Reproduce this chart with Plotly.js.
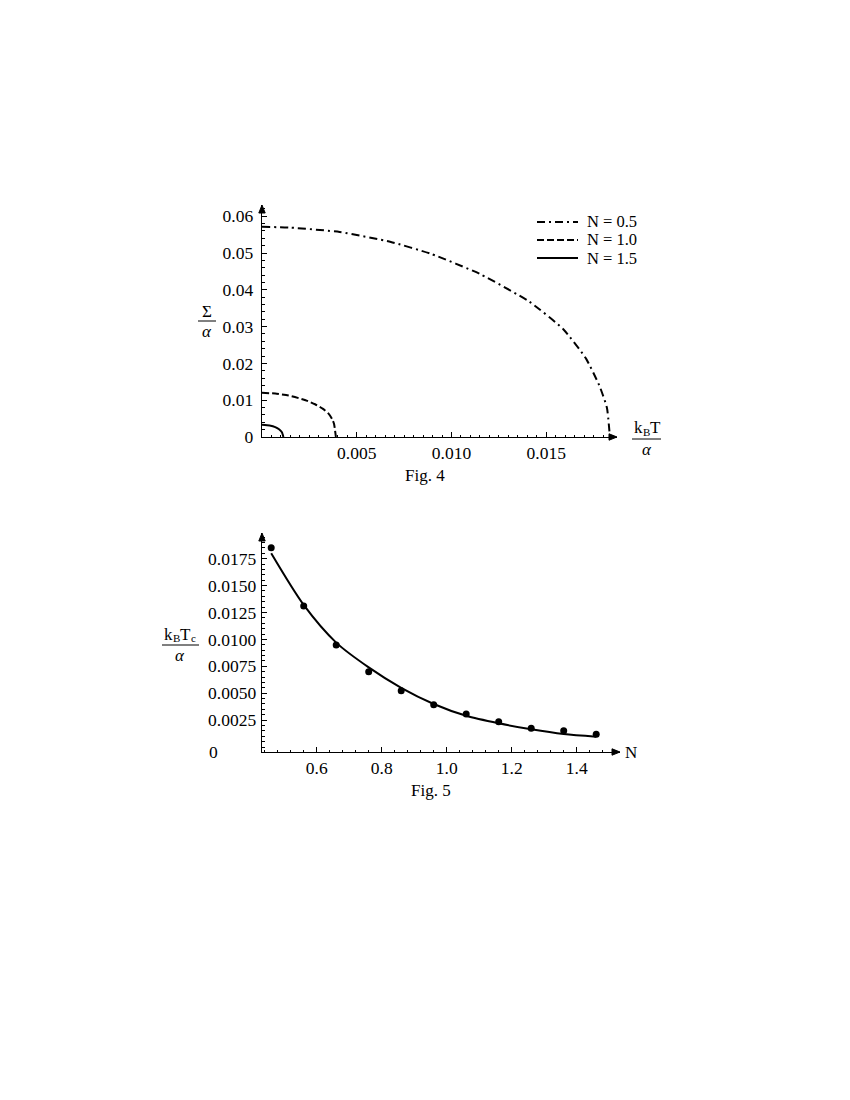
<!DOCTYPE html>
<html>
<head>
<meta charset="utf-8">
<script src="https://cdn.plot.ly/plotly-3.0.1.min.js"></script>
<style>html,body{margin:0;padding:0;background:#fff;}#plot{width:850px;height:1100px;}</style>
</head>
<body>
<div id="plot"></div>
<script>
// ---- Fig. 4 data: Sigma/alpha vs k_B T/alpha ----
const T_N05 = [0, 0.0015, 0.0041, 0.0068, 0.0089, 0.0115, 0.0141, 0.0159, 0.0171, 0.0178, 0.0182, 0.01836];
const S_N05 = [0.0571, 0.0569, 0.0557, 0.0530, 0.0498, 0.0443, 0.0368, 0.0293, 0.0213, 0.0140, 0.0080, 0];
const T_N10 = [0, 0.0007, 0.0014, 0.0023, 0.0028, 0.0032, 0.0035, 0.0037, 0.0038, 0.0039];
const S_N10 = [0.0120, 0.0118, 0.0113, 0.0100, 0.0089, 0.0077, 0.0064, 0.0049, 0.0036, 0];
const T_N15 = [0, 0.0004, 0.0007, 0.0009, 0.00105, 0.00113];
const S_N15 = [0.0033, 0.0031, 0.0027, 0.0021, 0.0013, 0];
const LEGEND_LABELS = ['N = 0.5', 'N = 1.0', 'N = 1.5'];

const X4_TICKVALS = [0.005, 0.010, 0.015];
const X4_TICKTEXT = ['0.005', '0.010', '0.015'];
const X4_MIDTICKS = [0.0025, 0.0075, 0.0125, 0.0175];
const Y4_TICKVALS = [0, 0.01, 0.02, 0.03, 0.04, 0.05, 0.06];
const Y4_TICKTEXT = ['0', '0.01', '0.02', '0.03', '0.04', '0.05', '0.06'];

// ---- Fig. 5 data: k_B T_c/alpha vs N ----
const N_VALUES = [0.46, 0.56, 0.66, 0.76, 0.86, 0.96, 1.06, 1.16, 1.26, 1.36, 1.46];
const TC_POINTS = [0.01852, 0.01310, 0.00948, 0.00700, 0.00523, 0.00393, 0.00307, 0.00235, 0.00174, 0.00151, 0.00118];
const TC_CURVE = [0.0180, 0.0132, 0.0097, 0.0074, 0.0055, 0.0040, 0.0029, 0.0022, 0.00164, 0.0012, 0.00096];

const X5_TICKVALS = [0.6, 0.8, 1.0, 1.2, 1.4];
const X5_TICKTEXT = ['0.6', '0.8', '1.0', '1.2', '1.4'];
const Y5_TICKVALS = [0.0025, 0.0050, 0.0075, 0.0100, 0.0125, 0.0150, 0.0175];
const Y5_TICKTEXT = ['0.0025', '0.0050', '0.0075', '0.0100', '0.0125', '0.0150', '0.0175'];
const Y5_ORIGIN_LABEL = '0';

// ---- layout helpers ----
const W = 850, H = 1100;
const px = v => v / W;
const py = v => 1 - v / H;
const FONT = '"Liberation Serif", "Times New Roman", serif';
const DASHDOT = '8px,4px,2px,4px';
const DASH = '7px,3px';
const TICKSIZE = 17.5;

const X4_RANGE = [0, 0.018734];
const Y4_RANGE = [0, 0.063043];
const X5_RANGE = [0.43169, 1.53323];
const Y5_RANGE = [-0.000465, 0.019888];

const traces = [
  {x: T_N05, y: S_N05, xaxis: 'x', yaxis: 'y', mode: 'lines', name: LEGEND_LABELS[0],
   line: {color: '#000', width: 2, dash: DASHDOT, shape: 'spline', smoothing: 0.5}},
  {x: T_N10, y: S_N10, xaxis: 'x', yaxis: 'y', mode: 'lines', name: LEGEND_LABELS[1],
   line: {color: '#000', width: 2, dash: DASH, shape: 'spline', smoothing: 0.5}},
  {x: T_N15, y: S_N15, xaxis: 'x', yaxis: 'y', mode: 'lines', name: LEGEND_LABELS[2],
   line: {color: '#000', width: 2, shape: 'spline', smoothing: 0.5}},
  {x: N_VALUES, y: TC_CURVE, xaxis: 'x2', yaxis: 'y2', mode: 'lines', name: 'fit',
   line: {color: '#000', width: 2, shape: 'spline', smoothing: 0.8}},
  {x: N_VALUES, y: TC_POINTS, xaxis: 'x2', yaxis: 'y2', mode: 'markers', name: 'data',
   marker: {color: '#000', size: 7}}
];

function axisBase(extra) {
  return Object.assign({
    showgrid: false, zeroline: false, showline: true, linecolor: '#000', linewidth: 1.3,
    ticks: 'inside', ticklen: 5, tickwidth: 1, tickcolor: '#000',
    tickfont: {family: FONT, size: TICKSIZE, color: '#000'},
    tickmode: 'array', fixedrange: true
  }, extra);
}

const layout = {
  width: W, height: H,
  margin: {l: 0, r: 0, t: 0, b: 0},
  paper_bgcolor: '#fff', plot_bgcolor: 'rgba(0,0,0,0)',
  showlegend: false,
  font: {family: FONT, size: 16, color: '#000'},
  xaxis: axisBase({domain: [px(262), px(617)], range: X4_RANGE, anchor: 'y',
    tickvals: X4_TICKVALS, ticktext: X4_TICKTEXT,
    minor: {tickmode: 'linear', tick0: 0, dtick: 0.0005, ticks: 'inside', ticklen: 2.5, tickcolor: '#000'}}),
  xaxis3: {overlaying: 'x', anchor: 'y', range: X4_RANGE, showgrid: false, zeroline: false, showline: false,
    tickmode: 'array', tickvals: X4_MIDTICKS, showticklabels: false,
    ticks: 'inside', ticklen: 5, tickwidth: 1, tickcolor: '#000', fixedrange: true},
  yaxis: axisBase({domain: [py(437), py(205)], range: Y4_RANGE, anchor: 'x',
    tickvals: Y4_TICKVALS, ticktext: Y4_TICKTEXT, ticklabelstandoff: 4,
    minor: {tickmode: 'linear', tick0: 0, dtick: 0.002, ticks: 'inside', ticklen: 2.5, tickcolor: '#000'}}),
  xaxis2: axisBase({domain: [px(262), px(620)], range: X5_RANGE, anchor: 'y2',
    tickvals: X5_TICKVALS, ticktext: X5_TICKTEXT,
    minor: {tickmode: 'linear', tick0: 0.6, dtick: 0.04, ticks: 'inside', ticklen: 2.5, tickcolor: '#000'}}),
  yaxis2: axisBase({domain: [py(752), py(533)], range: Y5_RANGE, anchor: 'x2',
    tickvals: Y5_TICKVALS, ticktext: Y5_TICKTEXT, ticklabelstandoff: 1,
    minor: {tickmode: 'linear', tick0: 0, dtick: 0.0005, ticks: 'inside', ticklen: 2.5, tickcolor: '#000'}}),
  shapes: [],
  annotations: []
};

// arrowheads at axis ends (axis-domain refs, so they are not clipped)
function arrowX(xd, yd) {
  layout.shapes.push({type: 'path', xref: xd, yref: yd, xsizemode: 'pixel', ysizemode: 'pixel',
    xanchor: 1, yanchor: 0, path: 'M -8,-3.2 L 0,0 L -8,3.2 Z', fillcolor: '#000', line: {color: '#000', width: 1}});
}
function arrowY(xd, yd) {
  layout.shapes.push({type: 'path', xref: xd, yref: yd, xsizemode: 'pixel', ysizemode: 'pixel',
    xanchor: 0, yanchor: 1, path: 'M -3.2,-8 L 0,0 L 3.2,-8 Z', fillcolor: '#000', line: {color: '#000', width: 1}});
}
arrowX('x domain', 'y domain');
arrowY('x domain', 'y domain');
arrowX('x2 domain', 'y2 domain');
arrowY('x2 domain', 'y2 domain');

// text helper (paper pixel positions)
function txt(t, x, y, opts) {
  layout.annotations.push(Object.assign({text: t, x: px(x), y: py(y), xref: 'paper', yref: 'paper',
    showarrow: false, xanchor: 'center', yanchor: 'middle', borderpad: 0,
    font: {family: FONT, size: 17, color: '#000'}}, opts || {}));
}
function small(t, x, y) {
  txt(t, x, y, {xanchor: 'left', font: {family: FONT, size: 11, color: '#000'}});
}
function bar(x0, x1, y) {
  layout.shapes.push({type: 'line', xref: 'paper', yref: 'paper', x0: px(x0), x1: px(x1), y0: py(y), y1: py(y),
    line: {color: '#000', width: 1}});
}

// Fig 4 axis titles
txt('Σ', 207, 311);
bar(198, 216, 321);
txt('<i>α</i>', 207, 332);
txt('k', 633, 427, {xanchor: 'left'});
small('B', 641.5, 432);
txt('T', 649, 427, {xanchor: 'left'});
bar(632, 661, 439);
txt('<i>α</i>', 647, 449);
txt('Fig. 4', 425, 475);

// Fig 4 legend (manual, matching compact spacing)
const legendDash = [DASHDOT, DASH, 'solid'];
const legendY = [222, 240, 258];
for (let i = 0; i < 3; i++) {
  layout.shapes.push({type: 'line', xref: 'paper', yref: 'paper', x0: px(537), x1: px(578), y0: py(legendY[i]), y1: py(legendY[i]),
    line: {color: '#000', width: 2, dash: legendDash[i]}});
  txt(LEGEND_LABELS[i], 586, legendY[i], {xanchor: 'left', font: {family: FONT, size: 16.5, color: '#000'}});
}

// Fig 5 axis titles and origin label
txt(Y5_ORIGIN_LABEL, 213, 752, {font: {family: FONT, size: TICKSIZE, color: '#000'}});
txt('k', 163, 634, {xanchor: 'left'});
small('B', 171.5, 638);
txt('T', 179, 634, {xanchor: 'left'});
small('c', 189.5, 638);
bar(162, 199, 645);
txt('<i>α</i>', 180, 655);
txt('N', 631, 752);
txt('Fig. 5', 431, 790);

Plotly.newPlot('plot', traces, layout, {staticPlot: true, displayModeBar: false});
</script>
</body>
</html>
